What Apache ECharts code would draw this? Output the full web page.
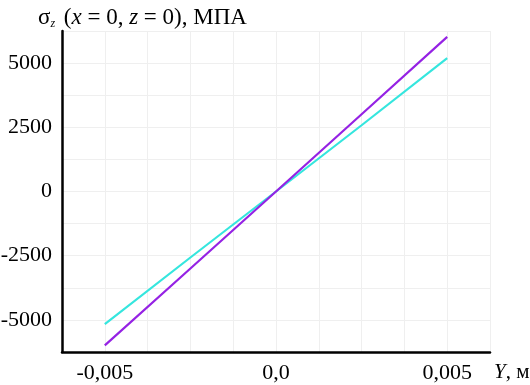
<!DOCTYPE html>
<html>
<head>
<meta charset="utf-8">
<script src="https://cdn.jsdelivr.net/npm/echarts@6/dist/echarts.min.js"></script>
<style>html,body{margin:0;padding:0;background:#fff}#c{width:530px;height:385px}</style>
</head>
<body>
<div id="c"></div>
<script>
// Data
var yPositions = [-0.005, -0.0025, 0, 0.0025, 0.005];
var cyanValues = [-5160, -2570, 0, 2580, 5190];
var purpleValues = [-5990, -3000, 0, 3010, 6020];
var xTickLabels = ['-0,005', '0,0', '0,005'];
var yTickLabels = ['-5000', '-2500', '0', '2500', '5000'];

var font = '"Liberation Serif", "Times New Roman", serif';
var chart = echarts.init(document.getElementById('c'), null, {renderer: 'canvas'});

function pairs(xs, ys) { return xs.map(function (x, i) { return [x, ys[i]]; }); }

chart.setOption({
  animation: false,
  backgroundColor: '#fff',
  textStyle: {fontFamily: font},
  title: {
    left: 33, top: 1,
    text: '{s|σ}{sub|z}{t| (}{i|x}{t| = 0, }{i|z}{t| = 0), МПА}',
    textStyle: {
      fontWeight: 'normal',
      rich: {
        s: {fontFamily: font, fontSize: 23, fontWeight: 'normal', color: '#000'},
        sub: {fontFamily: font, fontSize: 12, fontStyle: 'italic', fontWeight: 'normal', color: '#000', verticalAlign: 'bottom', padding: [12, 3, 0, 0]},
        t: {fontFamily: font, fontSize: 23, fontWeight: 'normal', color: '#000'},
        i: {fontFamily: font, fontSize: 23, fontStyle: 'italic', fontWeight: 'normal', color: '#000'}
      }
    }
  },
  grid: {left: 62, right: 40, top: 31, bottom: 33, containLabel: false, outerBoundsMode: 'none'},
  xAxis: {
    type: 'value', min: -0.00625, max: 0.00625, interval: 0.00125,
    name: '{i|Y}{t|, м}', nameLocation: 'end', nameGap: 4,
    nameTextStyle: {
      verticalAlign: 'top', padding: [10, 0, 0, 0],
      rich: {
        i: {fontFamily: font, fontSize: 21, fontStyle: 'italic', color: '#000'},
        t: {fontFamily: font, fontSize: 21, color: '#000'}
      }
    },
    axisLine: {onZero: false, lineStyle: {color: '#000', width: 2.5}},
    axisTick: {show: false},
    splitLine: {show: true, lineStyle: {color: '#efefef', width: 1}},
    axisLabel: {
      margin: 10, fontFamily: font, fontSize: 22, color: '#000',
      showMinLabel: true, showMaxLabel: true, hideOverlap: false,
      formatter: function (v) {
        var k = Math.round(v / 0.005);
        if (Math.abs(v - k * 0.005) > 1e-9) return '';
        return xTickLabels[k + 1] || '';
      }
    }
  },
  yAxis: {
    type: 'value', min: -6250, max: 6250, interval: 1250,
    axisLine: {show: true, onZero: false, lineStyle: {color: '#000', width: 2.5}},
    axisTick: {show: false},
    splitLine: {show: true, lineStyle: {color: '#efefef', width: 1}},
    axisLabel: {
      margin: 10, fontFamily: font, fontSize: 22, color: '#000', hideOverlap: false,
      formatter: function (v) {
        var k = Math.round(v / 2500);
        if (Math.abs(v - k * 2500) > 1e-6) return '';
        return yTickLabels[k + 2] || '';
      }
    }
  },
  series: [
    {type: 'line', data: pairs(yPositions, cyanValues), showSymbol: false,
     lineStyle: {color: '#35e6de', width: 2.2}, z: 2},
    {type: 'line', data: pairs(yPositions, purpleValues), showSymbol: false,
     lineStyle: {color: '#9522e4', width: 2.2}, z: 3}
  ]
});
</script>
</body>
</html>
